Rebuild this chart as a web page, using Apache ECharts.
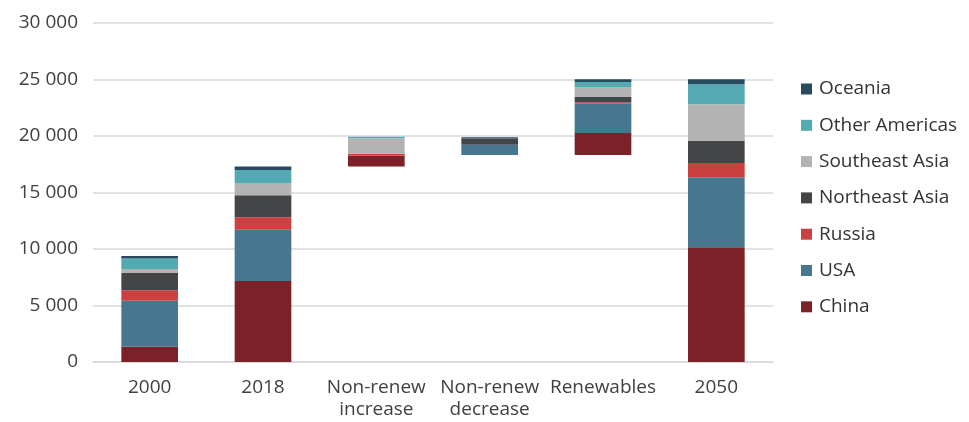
<!DOCTYPE html>
<html>
<head>
<meta charset="utf-8">
<script src="https://cdn.jsdelivr.net/npm/echarts@6/dist/echarts.min.js"></script>
<style>
  html, body { margin: 0; padding: 0; background: #fff; }
  #chart { width: 969px; height: 422px; }
</style>
</head>
<body>
<div id="chart"></div>
<script>
// Categories along the x axis
const categories = ['2000', '2018', 'Non-renew\nincrease', 'Non-renew\ndecrease', 'Renewables', '2050'];

// Invisible floor for the waterfall steps
const base = [0, 0, 17300, 18320, 18320, 0];

// Regional contributions (stacked bottom to top)
const china    = [1350, 7170, 970, 0, 1950, 10150];
const usa      = [4070, 4540, 0, 900, 2630, 6190];
const russia   = [920, 1100, 150, 0, 90, 1270];
const neAsia   = [1530, 1950, 0, 560, 470, 1950];
const seAsia   = [350, 1090, 1390, 0, 885, 3250];
const otherAm  = [950, 1150, 120, 0, 440, 1770];
const oceania  = [200, 300, 0, 120, 240, 440];

const yTicks = [0, 5000, 10000, 15000, 20000, 25000, 30000];

const regions = [
  { name: 'China',          data: china,   color: '#7d2128' },
  { name: 'USA',            data: usa,     color: '#46778f' },
  { name: 'Russia',         data: russia,  color: '#cc413f' },
  { name: 'Northeast Asia', data: neAsia,  color: '#444547' },
  { name: 'Southeast Asia', data: seAsia,  color: '#b3b3b4' },
  { name: 'Other Americas', data: otherAm, color: '#53aab3' },
  { name: 'Oceania',        data: oceania, color: '#284a5f' }
];

const font = '"Open Sans", Lato, sans-serif';

const series = [{
  name: 'base',
  type: 'bar',
  stack: 'total',
  data: base,
  barWidth: '50%',
  silent: true,
  itemStyle: { color: 'rgba(0,0,0,0)' }
}].concat(regions.map(r => ({
  name: r.name,
  type: 'bar',
  stack: 'total',
  data: r.data,
  barWidth: '50%',
  itemStyle: { color: r.color }
})));

const chart = echarts.init(document.getElementById('chart'), null, { renderer: 'canvas' });
chart.setOption({
  animation: false,
  textStyle: { fontFamily: font },
  grid: { left: 93, right: 196, top: 23, bottom: 60, containLabel: false },
  legend: {
    orient: 'vertical',
    left: 796,
    top: 74,
    itemWidth: 11,
    itemHeight: 11,
    itemGap: 16.3,
    icon: 'rect',
    data: regions.map(r => r.name).reverse(),
    textStyle: { fontFamily: font, fontSize: 19, color: '#333', lineHeight: 20, padding: [0, 0, 0, 2] }
  },
  xAxis: {
    type: 'category',
    data: categories,
    axisLine: { lineStyle: { color: '#d9d9d9', width: 1.5 } },
    axisTick: { show: false },
    axisLabel: { fontFamily: font, fontSize: 19, color: '#404040', lineHeight: 22, margin: 15, interval: 0 }
  },
  yAxis: {
    type: 'value',
    min: yTicks[0],
    max: yTicks[yTicks.length - 1],
    interval: 5000,
    axisLine: { show: false },
    axisTick: { show: false },
    splitLine: { lineStyle: { color: '#d9d9d9', width: 1.5 } },
    axisLabel: {
      fontFamily: font, fontSize: 19, color: '#404040', margin: 15,
      formatter: v => String(v).replace(/\B(?=(\d{3})+(?!\d))/g, ' ')
    }
  },
  series: series
});
</script>
</body>
</html>
